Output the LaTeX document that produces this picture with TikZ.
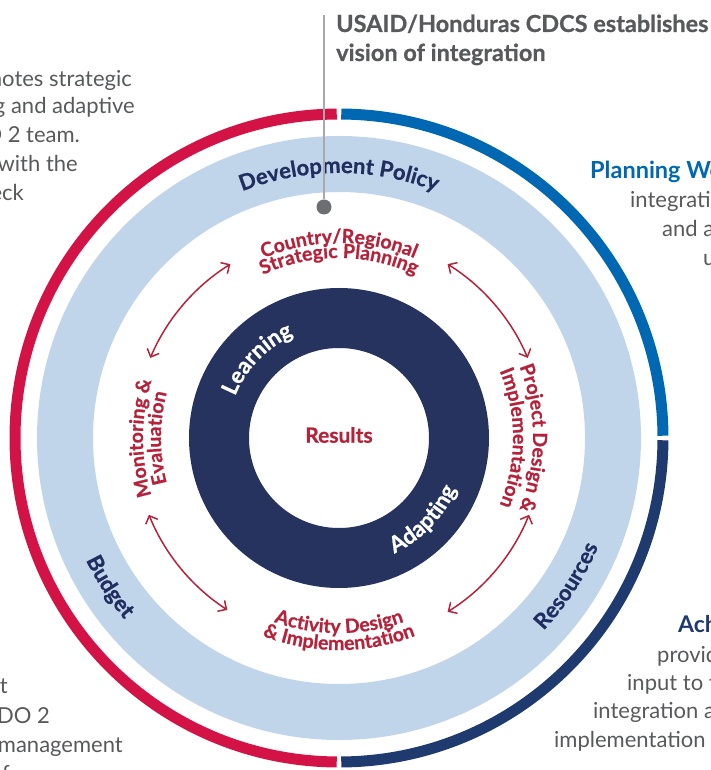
\documentclass[tikz,border=0pt]{standalone}
\usepackage{fontspec}
\setmainfont{Lato}
\newfontfamily\heavyfamily{Lato}[BoldFeatures={FakeBold=0.7}]
\usetikzlibrary{decorations.text,arrows.meta}

\definecolor{ringred}{HTML}{D31245}
\definecolor{ringblue}{HTML}{0068B3}
\definecolor{ringnavy}{HTML}{1E3A6E}
\definecolor{bandblue}{HTML}{C0D4EA}
\definecolor{donutnavy}{HTML}{26335F}
\definecolor{labred}{HTML}{B7223B}
\definecolor{labnavy}{HTML}{1F2E5E}
\definecolor{textgray}{HTML}{58595B}
\definecolor{dotgray}{HTML}{6D6E71}
\definecolor{linegray}{HTML}{A7A9AC}

% character formats for the curved labels
\newcommand\redlab{\color{labred}\fontsize{19.5}{19.5}\heavyfamily\bfseries}
\newcommand\navylab{\color{labnavy}\fontsize{22}{22}\heavyfamily\bfseries}
\newcommand\whitelab{\color{white}\fontsize{22.5}{22.5}\heavyfamily\bfseries}

\begin{document}
\begin{tikzpicture}[x=1pt,y=1pt,
  ringarc/.style={line width=11pt},
  arctext/.style={decorate, decoration={text along path, text align=center, text={#1}}},
  cyclearrow/.style={draw=labred, line width=1.5pt,
    {Straight Barb[length=6.5pt,width=13pt]}-{Straight Barb[length=6.5pt,width=13pt]}},
  graytxt/.style={text=textgray, font=\fontsize{22}{22}\selectfont, inner sep=0pt},
  boldgray/.style={text=textgray, font=\fontsize{23.5}{23.5}\heavyfamily\bfseries, inner sep=0pt},
  boldblue/.style={text=ringblue, font=\fontsize{23.5}{23.5}\selectfont\bfseries, inner sep=0pt},
  boldnavy/.style={text=ringnavy, font=\fontsize{23}{23}\selectfont\bfseries, inner sep=0pt},
  pin/.style={circle, fill=dotgray, minimum size=15pt, inner sep=0pt}
]
\useasboundingbox (-339,-332) rectangle (371,438);
\clip (-339,-332) rectangle (371,438);

% light band and inner donut
\draw[bandblue, line width=56pt] (0,0) circle (274);
\draw[donutnavy, line width=60pt] (0,0) circle (120);

% outer ring in three segments
\draw[ringred, ringarc] (90.4:324) arc[start angle=90.4, end angle=269.6, radius=324];
\draw[ringblue, ringarc] (89.6:324) arc[start angle=89.6, end angle=0.4, radius=324];
\draw[ringnavy, ringarc] (-0.4:324) arc[start angle=-0.4, end angle=-89.6, radius=324];

% cycle arrows between the four stages
\draw[cyclearrow] (23:205) arc[start angle=23, end angle=58, radius=205];
\draw[cyclearrow] (122:205) arc[start angle=122, end angle=157, radius=205];
\draw[cyclearrow] (202:205) arc[start angle=202, end angle=237, radius=205];
\draw[cyclearrow] (302:205) arc[start angle=302, end angle=338, radius=205];

% stage labels
\path[arctext={|\redlab|Country/Regional}] (160:195) arc[start angle=160, end angle=20, radius=195];
\path[arctext={|\redlab|Strategic Planning}] (165:180) arc[start angle=165, end angle=15, radius=180];
\path[arctext={|\redlab|Monitoring {\&}}] (250:196) arc[start angle=250, end angle=110, radius=196];
\path[arctext={|\redlab|Evaluation}] (250:178) arc[start angle=250, end angle=110, radius=178];
\path[arctext={|\redlab|Project Design {\&}}] (70:194) arc[start angle=70, end angle=-70, radius=194];
\path[arctext={|\redlab|Implementation}] (75:174) arc[start angle=75, end angle=-75, radius=174];
\path[arctext={|\redlab|Activity Design}] (200:195) arc[start angle=200, end angle=340, radius=195];
\path[arctext={|\redlab|{\&} Implementation}] (200:212) arc[start angle=200, end angle=340, radius=212];

% band labels
\path[arctext={|\navylab|Development Policy}] (150:265) arc[start angle=150, end angle=30, radius=265];
\path[arctext={|\navylab|Budget}] (183:281) arc[start angle=183, end angle=243, radius=281];
\path[arctext={|\navylab|Resources}] (-73:281) arc[start angle=-73, end angle=7, radius=281];

% donut labels
\path[arctext={|\whitelab|Learning}] (196:112) arc[start angle=196, end angle=76, radius=112];
\path[arctext={|\whitelab|Adapting}] (-104:128) arc[start angle=-104, end angle=16, radius=128];
\node[text=labred, font=\fontsize{21}{21}\heavyfamily\bfseries] (results) at (0,3) {Results};

% pointer from the heading to the planning stage
\coordinate (ptop) at (-15,423);
\node[pin] (pdot) at (-15,231) {};
\draw[linegray, line width=1.5pt] (ptop) -- (pdot);

% heading
\node[boldgray, anchor=base west] (h1) at (-3,406) {USAID/Honduras CDCS establishes};
\node[boldgray, anchor=base west] (h2) at (-3,377) {vision of integration};

% upper left note
\node[graytxt, anchor=base east] (a1) at (-207,351) {promotes strategic};
\node[graytxt, anchor=base east] (a2) at (-204,324) {learning and adaptive};
\node[graytxt, anchor=base east] (a3) at (-259,295) {the DO 2 team.};
\node[graytxt, anchor=base east] (a4) at (-261,266) {aligned with the};
\node[graytxt, anchor=base east] (a5) at (-315,237) {check};

% upper right note
\node[boldblue, anchor=base west] (b1) at (251,259) {Planning Workshops};
\node[graytxt, anchor=base west] (b2) at (291,230) {integration among};
\node[graytxt, anchor=base west] (b3) at (323,201) {and adaptive};
\node[graytxt, anchor=base west] (b4) at (364,172) {using};

% lower right note
\node[boldnavy, anchor=base west] (c1) at (339,-194) {Achievements};
\node[graytxt, anchor=base west] (c2) at (318,-224) {provides};
\node[graytxt, anchor=base west] (c3) at (288,-252) {input to the};
\node[graytxt, anchor=base west] (c4) at (254,-280) {integration and};
\node[graytxt, anchor=base west] (c5) at (215,-309) {implementation of};

% lower left note
\node[graytxt, anchor=base east] (d1) at (-331,-255) {support};
\node[graytxt, anchor=base east] (d2) at (-289,-285) {the DO 2};
\node[graytxt, anchor=base east] (d3) at (-216,-314) {management};
\node[graytxt, anchor=base east] (d4) at (-329,-343) {of};
\end{tikzpicture}
\end{document}
